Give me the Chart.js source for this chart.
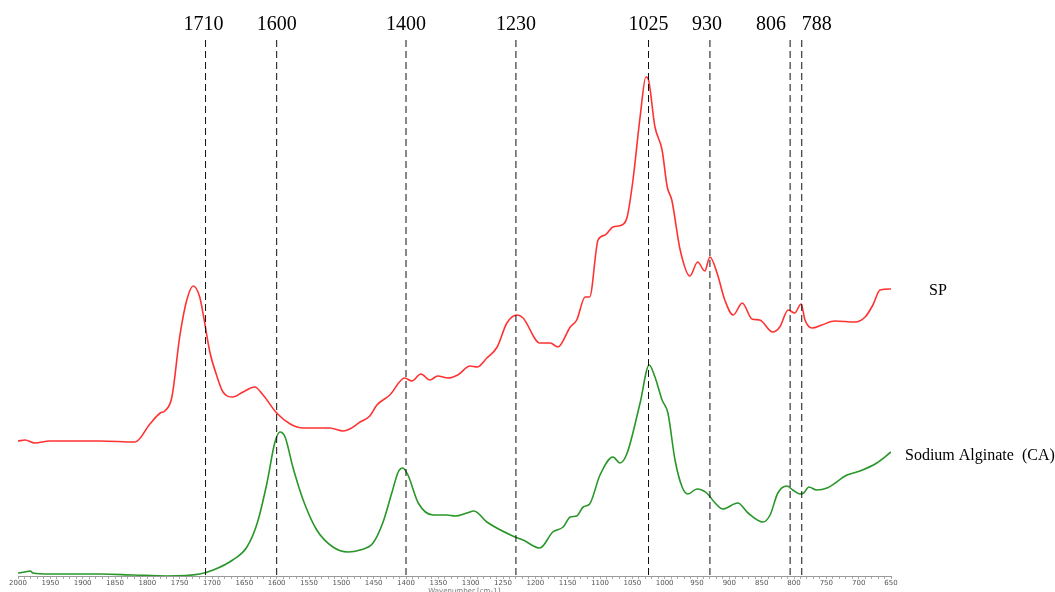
<!DOCTYPE html>
<html>
<head>
<meta charset="utf-8">
<script src="https://cdn.jsdelivr.net/npm/chart.js@4/dist/chart.umd.min.js"></script>
<style>
  html, body { margin: 0; padding: 0; background: #fff; }
  #wrap { width: 1055px; height: 592px; position: relative; }
</style>
</head>
<body>
<div id="wrap"><canvas id="c" width="1055" height="592"></canvas></div>
<script>
// ---- data ----
const spWavenumbers = [2000,1989,1974,1951,1873,1819,1796,1780,1773,1762,1750,1739,1729,1719,1714,1703,1692,1683,1668,1652,1634,1621,1600,1579,1559,1518,1497,1487,1471,1456,1445,1425,1402,1391,1377,1363,1351,1335,1320,1301,1290,1275,1259,1244,1228,1219,1193,1177,1165,1146,1136,1123,1116,1103,1092,1080,1066,1058,1049,1038,1029,1026,1015,1004,996,989,976,961,949,938,930,919,907,894,880,865,853,833,822,809,799,789,783,772,757,737,706,690,678,667,650];
const spAbsorbance = [1.35,1.36,1.33,1.35,1.35,1.34,1.52,1.63,1.65,1.79,2.39,2.76,2.90,2.79,2.63,2.23,1.99,1.84,1.79,1.84,1.89,1.81,1.63,1.52,1.48,1.48,1.45,1.47,1.54,1.60,1.71,1.81,1.98,1.95,2.02,1.96,2.00,1.98,2.01,2.10,2.09,2.18,2.29,2.53,2.61,2.58,2.33,2.33,2.29,2.49,2.56,2.79,2.79,3.36,3.41,3.49,3.51,3.59,3.96,4.59,4.99,4.98,4.49,4.26,3.89,3.76,3.26,3.00,3.14,3.05,3.19,3.03,2.76,2.61,2.73,2.57,2.56,2.44,2.49,2.66,2.63,2.72,2.56,2.48,2.51,2.55,2.54,2.59,2.71,2.86,2.87];

const caWavenumbers = [2000,1989,1981,1977,1951,1873,1822,1770,1719,1698,1668,1646,1630,1615,1603,1595,1587,1575,1559,1538,1513,1490,1471,1451,1436,1422,1412,1405,1397,1381,1358,1337,1324,1306,1295,1275,1235,1219,1193,1173,1157,1146,1136,1126,1116,1100,1080,1069,1058,1038,1024,1015,1004,995,984,973,964,950,935,922,910,887,871,848,837,825,811,802,791,785,777,765,749,718,698,672,650];
const caAbsorbance = [0.03,0.04,0.05,0.03,0.02,0.02,0.01,0.00,0.02,0.06,0.16,0.29,0.53,0.93,1.33,1.44,1.39,1.09,0.76,0.46,0.29,0.24,0.26,0.33,0.53,0.83,1.04,1.08,1.01,0.73,0.61,0.61,0.60,0.63,0.65,0.54,0.40,0.36,0.28,0.44,0.49,0.59,0.60,0.69,0.72,1.01,1.19,1.13,1.23,1.73,2.11,1.99,1.76,1.63,1.16,0.89,0.82,0.87,0.83,0.73,0.67,0.73,0.63,0.54,0.61,0.83,0.90,0.86,0.82,0.83,0.89,0.86,0.88,1.01,1.05,1.13,1.24];

const markerWavenumbers = [1710, 1600, 1400, 1230, 1025, 930, 806, 788];
const seriesNames = ["SP", "Sodium Alginate  (CA)"];
const xMin = 650, xMax = 2000, xLabelStep = 50, xMinorStep = 10;
const axisTitle = "Wavenumber [cm-1]";

const toPoints = (xs, ys) => xs.map((x, i) => ({ x: x, y: ys[i] }));

// label nudges so the two close markers (806 / 788) do not overlap
const labelNudge = { 1710: -2, 806: -19, 788: 15, 930: -3 };

const annotations = {
  id: 'annotations',
  afterDatasetsDraw(chart) {
    const { ctx, chartArea, scales } = chart;
    const xs = scales.x;
    ctx.save();
    ctx.strokeStyle = '#111';
    ctx.lineWidth = 1;
    ctx.setLineDash([7, 4]);
    markerWavenumbers.forEach(w => {
      const px = xs.getPixelForValue(w);
      ctx.beginPath();
      ctx.moveTo(px, chartArea.top);
      ctx.lineTo(px, chartArea.bottom);
      ctx.stroke();
    });
    ctx.setLineDash([]);
    ctx.fillStyle = '#000';
    ctx.font = '20px "Liberation Serif", "Times New Roman", serif';
    ctx.textAlign = 'center';
    ctx.textBaseline = 'middle';
    markerWavenumbers.forEach(w => {
      const px = xs.getPixelForValue(w) + (labelNudge[w] || 0);
      ctx.fillText(String(w), px, 25);
    });
    ctx.font = '16px "Liberation Serif", "Times New Roman", serif';
    ctx.textAlign = 'left';
    const offsets = [[38, 2], [14, 4]];
    chart.data.datasets.forEach((ds, i) => {
      const meta = chart.getDatasetMeta(i);
      const last = meta.data[meta.data.length - 1];
      ctx.fillText(seriesNames[i], last.x + offsets[i][0], last.y + offsets[i][1]);
    });
    ctx.font = '7px "DejaVu Sans", sans-serif';
    ctx.fillStyle = '#777';
    ctx.textAlign = 'center';
    ctx.textBaseline = 'top';
    ctx.fillText(axisTitle, xs.getPixelForValue(1310), 588);
    ctx.restore();
  }
};

new Chart(document.getElementById('c'), {
  type: 'line',
  data: {
    datasets: [
      {
        label: seriesNames[0],
        data: toPoints(spWavenumbers, spAbsorbance),
        borderColor: 'rgb(255,50,50)',
        borderWidth: 1.6,
        pointRadius: 0,
        cubicInterpolationMode: 'monotone',
        fill: false
      },
      {
        label: seriesNames[1],
        data: toPoints(caWavenumbers, caAbsorbance),
        borderColor: 'rgb(40,150,40)',
        borderWidth: 1.6,
        pointRadius: 0,
        cubicInterpolationMode: 'monotone',
        fill: false
      }
    ]
  },
  options: {
    responsive: false,
    animation: false,
    devicePixelRatio: 1,
    layout: { padding: { left: 18, right: 164, top: 40, bottom: 0 } },
    plugins: { legend: { display: false }, tooltip: { enabled: false } },
    scales: {
      x: {
        type: 'linear',
        reverse: true,
        min: xMin,
        max: xMax,
        afterFit: (s) => { s.height = 16; },
        afterBuildTicks: (s) => {
          const t = [];
          for (let v = xMin; v <= xMax; v += xMinorStep) t.push({ value: v });
          s.ticks = t;
        },
        ticks: {
          autoSkip: false,
          maxRotation: 0,
          padding: 0,
          color: '#555',
          font: { size: 7, family: '"DejaVu Sans", sans-serif' },
          callback: (v) => (v % xLabelStep === 0 ? String(v) : '')
        },
        grid: {
          drawOnChartArea: false,
          drawTicks: true,
          tickLength: 3,
          color: '#aaa'
        },
        border: { display: true, color: '#999' }
      },
      y: {
        display: false,
        min: 0,
        max: 5.36
      }
    }
  },
  plugins: [annotations]
});
</script>
</body>
</html>
